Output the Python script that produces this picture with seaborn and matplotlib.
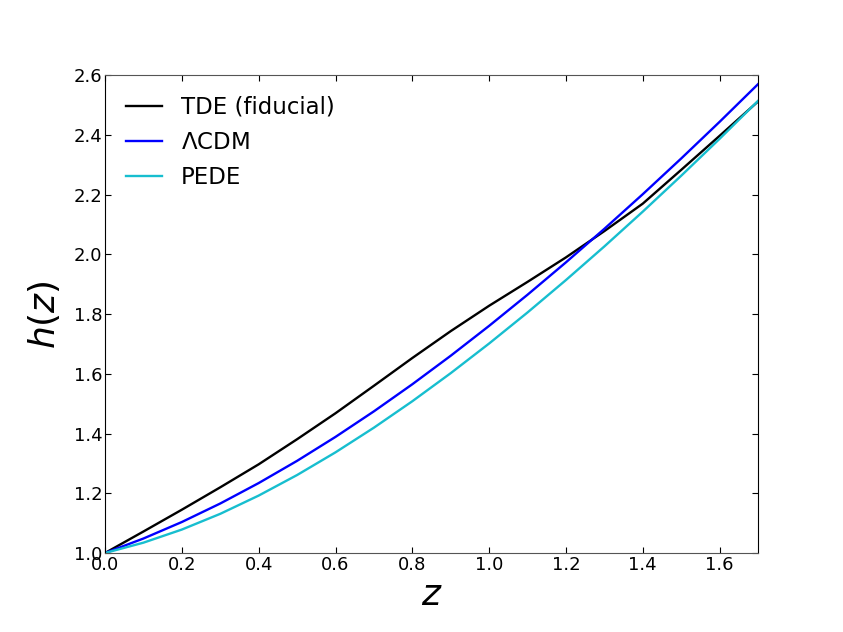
import matplotlib
matplotlib.use("Agg")
import matplotlib.pyplot as plt
import seaborn as sns
import pandas as pd

z = [0.0, 0.1, 0.2, 0.3, 0.4, 0.5, 0.6, 0.7, 0.8, 0.9,
     1.0, 1.1, 1.2, 1.3, 1.4, 1.5, 1.6, 1.7]
h_tde = [1.000, 1.072, 1.145, 1.220, 1.297, 1.381, 1.468, 1.560, 1.653, 1.743,
         1.828, 1.908, 1.990, 2.078, 2.170, 2.283, 2.397, 2.512]
h_lcdm = [1.000, 1.0485, 1.1038, 1.1658, 1.2342, 1.3086, 1.3888, 1.4744, 1.5651, 1.6606,
          1.7607, 1.8650, 1.9734, 2.0857, 2.2016, 2.3211, 2.4439, 2.5700]
h_pede = [1.000, 1.0346, 1.0785, 1.1312, 1.1923, 1.2611, 1.3371, 1.4197, 1.5082, 1.6023,
          1.7016, 1.8056, 1.9141, 2.0267, 2.1432, 2.2634, 2.3870, 2.5140]
labels = ["TDE (fiducial)", r"$\Lambda$CDM", "PEDE"]
colors = ["black", "#0000ff", "#17becf"]

df = pd.concat([
    pd.DataFrame({"z": z, "h": h_tde, "model": labels[0]}),
    pd.DataFrame({"z": z, "h": h_lcdm, "model": labels[1]}),
    pd.DataFrame({"z": z, "h": h_pede, "model": labels[2]}),
])

fig = plt.figure(figsize=(8.43, 6.32), dpi=100)
ax = fig.add_axes([0.1246, 0.125, 0.7746, 0.756])
sns.lineplot(data=df, x="z", y="h", hue="model", palette=colors, hue_order=labels,
             linewidth=1.7, ax=ax)

ax.set_xlim(0, 1.7)
ax.set_ylim(1.0, 2.6)
ax.set_xticks([0.0, 0.2, 0.4, 0.6, 0.8, 1.0, 1.2, 1.4, 1.6])
ax.set_yticks([1.0, 1.2, 1.4, 1.6, 1.8, 2.0, 2.2, 2.4, 2.6])
ax.tick_params(direction="in", top=True, right=True, labelsize=13, pad=2, length=4)
ax.set_xlabel(r"$z$", fontsize=26, labelpad=3)
ax.set_ylabel(r"$h(z)$", fontsize=26, labelpad=8)
for s in ["top", "bottom"]:
    ax.spines[s].set_color("#555555")
ax.legend(loc="upper left", frameon=False, fontsize=16.5, handlelength=1.6,
          handletextpad=0.8, borderaxespad=0.5, labelspacing=0.52)

fig.savefig("out.png", dpi=100)
